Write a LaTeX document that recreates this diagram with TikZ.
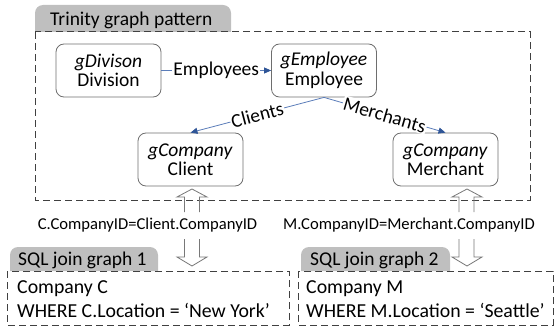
\documentclass[tikz,border=0pt]{standalone}
\usepackage{fontspec}
\setmainfont{Carlito}
\usetikzlibrary{arrows.meta}
\definecolor{edgeblue}{RGB}{91,125,185}
\definecolor{tipblue}{RGB}{47,85,151}
\definecolor{framegray}{RGB}{64,64,64}
\definecolor{nodegray}{RGB}{110,110,110}
\definecolor{tabgray}{RGB}{191,191,191}
\definecolor{hollowgray}{RGB}{120,120,120}
\begin{document}
\begin{tikzpicture}[x=1pt,y=-1pt,
  ent/.style={draw=nodegray, rounded corners=8pt, minimum width=105pt, minimum height=53pt,
    align=center, font=\fontsize{19.5}{19.5}\selectfont, inner sep=0pt, line width=0.8pt},
  rel/.style={draw=edgeblue, line width=0.8pt, -{Triangle[length=7pt,width=6pt,color=tipblue]}},
  lab/.style={fill=white, inner sep=1pt, font=\fontsize{19.5}{19.5}\selectfont},
  frame/.style={draw=framegray, dash pattern=on 7pt off 4pt, line width=1pt},
  tabtext/.style={anchor=base west, inner sep=0pt, font=\fontsize{19.5}{19.5}\selectfont},
  sqltext/.style={anchor=base west, inner sep=0pt, font=\fontsize{19.8}{19.8}\selectfont},
  joinlab/.style={inner sep=0pt, font=\fontsize{16.6}{16.6}\selectfont},
  hollow/.style={draw=hollowgray, line width=0.8pt}
]
\useasboundingbox (0,0) rectangle (556,326);

% Trinity frame
\fill[tabgray] (35,32) [rounded corners=8pt] -- (35,5) -- (231,5) [sharp corners] -- (231,32) -- cycle;
\node[tabtext] (ttab) at (50,26) {Trinity graph pattern};
\draw[frame] (35,32) rectangle (530,200);

% entity nodes
\node[ent] (div) at (108.5,70.5) {\textit{gDivison}\\Division};
\node[ent] (emp) at (324,70.5) {\textit{gEmployee}\\Employee};
\node[ent] (cli) at (190.5,159.5) {\textit{gCompany}\\Client};
\node[ent] (mer) at (445.5,159.5) {\textit{gCompany}\\Merchant};

% relationships
\draw[rel] (div.east) -- node[lab] {Employees} (emp.west);
\draw[rel] (emp.south) -- node[lab,sloped] {Clients} (cli.north);
\draw[rel] (emp.south) -- node[lab,sloped] {Merchants} (mer.north);

% join labels
\node[joinlab] (jc) at (147.5,225) {C.CompanyID=Client.CompanyID};
\node[joinlab] (jm) at (409,225) {M.CompanyID=Merchant.CompanyID};

% hollow arrows (client)
\draw[hollow] (184.5,212) -- (184.5,197) -- (177,197) -- (192,189) -- (207,197) -- (199.5,197) -- (199.5,212);
\draw[hollow] (184.5,239) -- (184.5,257) -- (177,257) -- (192,266) -- (207,257) -- (199.5,257) -- (199.5,239);
% hollow arrows (merchant)
\draw[hollow] (459,212) -- (459,197) -- (452,197) -- (467,189) -- (482,197) -- (474,197) -- (474,212);
\draw[hollow] (459,239) -- (459,257) -- (452,257) -- (467,266) -- (482,257) -- (474,257) -- (474,239);

% SQL join graph 1
\fill[tabgray] (10,271) [rounded corners=8pt] -- (10,247) -- (158,247) [sharp corners] -- (158,271) -- cycle;
\node[tabtext] (tab1) at (18,265) {SQL join graph 1};
\draw[frame] (7,271) rectangle (289,325);
\node[sqltext] (s1a) at (17,293) {Company C};
\node[sqltext] (s1b) at (17,317) {WHERE C.Location = ‘New York’};

% SQL join graph 2
\fill[tabgray] (301,271) [rounded corners=8pt] -- (301,247) -- (450,247) [sharp corners] -- (450,271) -- cycle;
\node[tabtext] (tab2) at (310,265) {SQL join graph 2};
\draw[frame] (298,271) rectangle (553,325);
\node[sqltext] (s2a) at (306,293) {Company M};
\node[sqltext] (s2b) at (306,317) {WHERE M.Location = ‘Seattle’};
\end{tikzpicture}
\end{document}
